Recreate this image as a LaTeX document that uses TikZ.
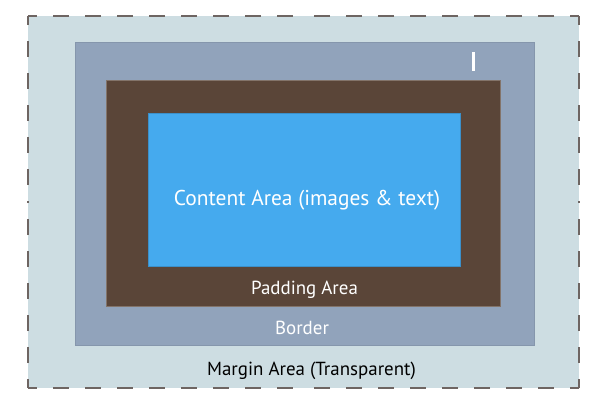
\documentclass[tikz,border=0pt]{standalone}
\usepackage{fontspec}
\setmainfont{PT Sans}
\definecolor{marginc}{HTML}{CDDDE2}
\definecolor{borderc}{HTML}{91A3BB}
\definecolor{paddingc}{HTML}{5A4538}
\definecolor{contentc}{HTML}{45AAEE}
\definecolor{dashc}{HTML}{6E6562}
\tikzset{
  edge/.style={draw=dashc, line width=2bp, dash pattern=on 16bp off 16bp, dash phase=7bp},
  lbl/.style={anchor=base, inner sep=0pt},
}
\begin{document}
\begin{tikzpicture}[x=1bp,y=-1bp]
\useasboundingbox (0,0) rectangle (600,416);
% areas
\fill[marginc] (28,16) rectangle (579,388);
\filldraw[fill=borderc, draw=borderc!92!black, line width=0.4bp] (75,42) rectangle (534,345);
\filldraw[fill=paddingc, draw=paddingc!75!white, line width=0.5bp] (106,80) rectangle (500,306);
\filldraw[fill=contentc, draw=contentc!85!black, line width=0.4bp] (148,113) rectangle (460,266);
% dashed outline, drawn from each corner toward the middle of each side
\coordinate (tl) at (28,16);
\coordinate (tr) at (579,16);
\coordinate (bl) at (28,388);
\coordinate (br) at (579,388);
\coordinate (tm) at (303.5,16);
\coordinate (bm) at (303.5,388);
\coordinate (lm) at (28,202);
\coordinate (rm) at (579,202);
\draw[edge] (tl) -- (tm);
\draw[edge] (tr) -- (tm);
\draw[edge] (bl) -- (bm);
\draw[edge] (br) -- (bm);
\draw[edge] (tl) -- (lm);
\draw[edge] (bl) -- (lm);
\draw[edge] (tr) -- (rm);
\draw[edge] (br) -- (rm);
% cursor mark
\coordinate (ia) at (473.5,52);
\coordinate (ib) at (473.5,71);
\draw[white, line width=2.5bp] (ia) -- (ib);
% labels
\node[lbl, text=white, font=\fontsize{21.5}{25}\selectfont] (content) at (307,205) {Content Area (images \& text)};
\node[lbl, text=white, font=\fontsize{19}{22}\selectfont] (padding) at (304.5,294) {Padding Area};
\node[lbl, text=white, font=\fontsize{19}{22}\selectfont] (border) at (302,334) {Border};
\node[lbl, text=black, font=\fontsize{19}{22}\selectfont] (margin) at (311.5,375) {Margin Area (Transparent)};
\end{tikzpicture}
\end{document}
